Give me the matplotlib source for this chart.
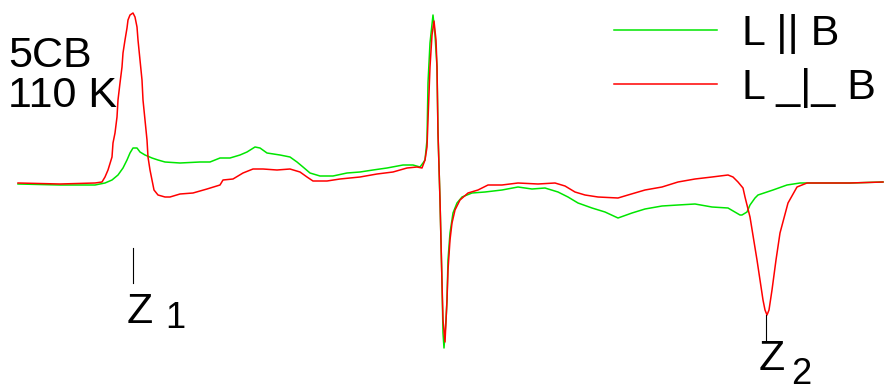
import numpy as np
import matplotlib
matplotlib.use("Agg")
import matplotlib.pyplot as plt

plt.rcParams['font.family'] = ['Liberation Sans', 'DejaVu Sans']

# EPR spectra of 5CB at 110 K, field and signal in arbitrary units
field_par = [18, 60, 95, 105, 112, 118, 123, 127, 130, 133, 137, 140, 145, 152,
             158, 165, 180, 200, 210, 220, 230, 240, 247, 255, 260, 267, 280, 290,
             297, 303, 310, 320, 333, 347, 360, 373, 387, 403, 413, 420, 423, 425,
             427, 428, 430, 433, 435, 437, 438, 440, 442, 443, 444, 446, 447, 448,
             450, 453, 457, 462, 472, 485, 502, 518, 532, 545, 558, 568, 578, 592,
             605, 618, 632, 645, 662, 678, 695, 712, 728, 740, 742, 747, 750, 755,
             758, 773, 787, 800, 820, 850, 883]
signal_par = [-1, -2, -2, 0, 3, 8, 15, 23, 30, 35, 35, 31, 28, 25,
              23, 21, 20, 21, 21, 25, 25, 28, 31, 36, 35, 30, 28, 26,
              21, 16, 10, 7, 7, 10, 11, 13, 15, 18, 18, 16, 20, 23,
              43, 100, 140, 168, 148, 116, 50, -17, -100, -150, -165, -137, -117, -77,
              -50, -30, -20, -14, -10, -9, -7, -4, -6, -5, -9, -14, -20, -25,
              -29, -35, -30, -26, -23, -22, -21, -24, -25, -32, -32, -29, -22, -15,
              -12, -7, -2, 0, 0, 0, 1]

field_perp = [18, 60, 95, 102, 105, 108, 112, 113, 115, 117, 118, 120, 122, 123,
              125, 127, 128, 130, 133, 135, 137, 138, 140, 142, 143, 145, 147, 148,
              150, 152, 154, 158, 165, 170, 180, 193, 207, 220, 223, 233, 243, 253,
              263, 277, 290, 300, 307, 313, 327, 340, 360, 377, 393, 407, 417, 422,
              425, 427, 428, 430, 432, 434, 436, 437, 438, 440, 442, 443, 445, 447,
              448, 450, 452, 455, 460, 468, 478, 488, 502, 518, 538, 555, 565, 575,
              585, 598, 618, 628, 645, 662, 678, 695, 712, 728, 733, 738, 743, 745,
              750, 757, 763, 765, 767, 769, 772, 776, 780, 788, 797, 807, 820, 850,
              883]
signal_perp = [0, -1, 0, 1, 6, 13, 26, 40, 50, 66, 83, 100, 116, 130,
               143, 155, 163, 168, 170, 166, 156, 143, 123, 103, 83, 63, 43, 26,
               13, 3, -7, -12, -14, -14, -11, -10, -6, -2, 3, 4, 10, 14,
               14, 13, 14, 11, 6, 2, 2, 4, 6, 9, 11, 15, 16, 15,
               23, 36, 63, 116, 148, 162, 143, 116, 50, -17, -100, -137, -159, -117,
               -87, -57, -40, -27, -17, -10, -7, -2, -2, 0, -1, 0, -3, -9,
               -12, -14, -15, -12, -7, -4, 1, 4, 6, 8, 6, 1, -5, -14,
               -34, -77, -117, -127, -132, -127, -107, -77, -50, -20, -4, 0, 0, 0,
               1]

z1_field, z2_field = 133, 766
label_par = 'L || B'
label_perp = 'L _|_ B'

fig = plt.figure(figsize=(8.84, 3.87), dpi=100)
ax = fig.add_axes([0, 0, 1, 1])

ax.plot(field_par, signal_par, color='#00e600', lw=1.1, label=label_par)
ax.plot(field_perp, signal_perp, color='#ff0000', lw=1.1, label=label_perp)

ax.set_xlim(0, 884)
ax.set_ylim(-204, 183)
ax.axis('off')

# sample / temperature
ax.text(8, 147, '5CB', fontsize=31, ha='left', va='top')
ax.text(8, 107, '110 K', fontsize=31, ha='left', va='top')

# turning point markers
ax.plot([z1_field, z1_field], [-65, -100], color='black', lw=0.8)
ax.text(z1_field - 6, -109, 'Z', fontsize=31, ha='left', va='top')
ax.text(z1_field + 32, -118, '1', fontsize=26, ha='left', va='top')
ax.plot([z2_field, z2_field], [-132, -157], color='black', lw=0.8)
ax.text(z2_field - 7, -156, 'Z', fontsize=31, ha='left', va='top')
ax.text(z2_field + 25, -174, '2', fontsize=26, ha='left', va='top')

ax.legend(loc='upper left', bbox_to_anchor=(0.6946, 0.964), frameon=False,
          fontsize=31, handlelength=2.4, handletextpad=0.57, labelspacing=0.33,
          borderpad=0.0, borderaxespad=0.0)

fig.savefig('out.png', dpi=100)
